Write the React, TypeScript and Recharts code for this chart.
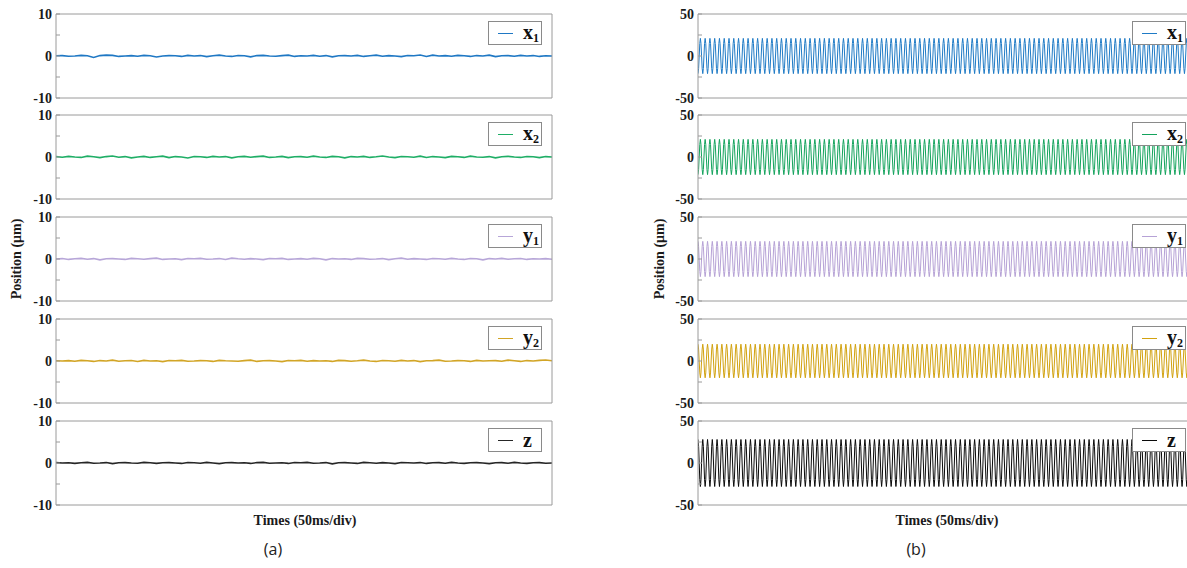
import { Legend, Line, LineChart, XAxis, YAxis } from 'recharts';

// series labels
const NAMES = ['x', 'x', 'y', 'y', 'z'];
const SUBS = ['1', '2', '1', '2', ''];

// (a) small residual wiggle around zero (µm)
const WIGGLE_X1 = [
  0.05, 0.1, -0.05, 0, 0.15, 0.05, -0.35, 0.1, 0.2, 0.15, -0.1, 0, 0.1, -0.05, 0.15, 0.05, -0.25, 0, 0.1, 0.05,
  -0.1, 0.15, 0, 0.1, -0.15, 0.05, 0.2, 0, -0.1, 0.1, 0.05, -0.2, 0.1, 0.15, 0, -0.05, 0.1, 0.2, -0.1, 0.05,
  0, 0.15, -0.05, 0.1, -0.2, 0.05, 0.1, 0, 0.15, -0.1, 0.05, 0.2, -0.05, 0.1, 0, -0.15, 0.1, 0.05, 0.25, -0.1,
  0.2, 0, 0.1, -0.05, 0.15, 0.05, -0.1, 0.1, 0, 0.2, -0.15, 0.05, 0.1, -0.05, 0.15, 0, 0.1, -0.1, 0.05, 0,
];
const WIGGLE_X2 = [
  0.1, -0.05, 0.15, 0, -0.1, 0.2, 0.05, -0.15, 0.1, 0.25, -0.05, 0.1, -0.2, 0, 0.15, -0.1, 0.05, 0.2, -0.15, 0.1,
  0, -0.25, 0.1, 0.05, -0.1, 0.15, 0, 0.1, -0.2, 0.05, 0.15, -0.05, 0.1, 0.2, -0.1, 0, 0.15, -0.15, 0.05, 0.1,
  -0.05, 0.2, 0, -0.1, 0.15, 0.05, -0.2, 0.1, 0, 0.15, -0.1, 0.05, 0.25, 0, -0.15, 0.1, 0.05, -0.05, 0.2, -0.1,
  0.1, 0, -0.15, 0.15, 0.05, -0.1, 0.2, 0, -0.05, 0.1, -0.2, 0.05, 0.15, 0, -0.1, 0.1, 0.05, -0.15, 0.1, 0,
];
const WIGGLE_Y1 = [
  0, 0.1, -0.1, 0.05, 0.15, -0.05, 0.1, -0.2, 0.05, 0.1, 0, -0.1, 0.15, 0.05, -0.05, 0.1, 0.2, -0.1, 0, 0.05,
  -0.15, 0.1, 0.05, 0.15, -0.05, 0, 0.1, -0.1, 0.2, 0.05, -0.05, 0.1, 0, -0.15, 0.1, 0.05, 0.15, -0.1, 0, 0.1,
  -0.05, 0.15, 0.05, -0.2, 0.1, 0, 0.05, -0.1, 0.15, 0.1, -0.05, 0, 0.1, -0.15, 0.05, 0.2, -0.05, 0.1, 0, -0.1,
  0.1, 0.05, -0.05, 0.15, 0, -0.1, 0.1, 0.05, -0.2, 0.1, 0, 0.15, -0.05, 0.05, 0.1, -0.1, 0.05, 0, 0.1, -0.05,
];
const WIGGLE_Y2 = [
  0.05, 0, 0.1, -0.05, 0.15, 0.05, -0.1, 0.1, 0, 0.2, -0.05, 0.05, 0.1, -0.1, 0.15, 0, 0.05, -0.15, 0.1, 0.05,
  0.15, -0.05, 0, 0.1, 0.05, -0.1, 0.15, 0.05, 0, -0.05, 0.1, 0.2, -0.1, 0.05, 0.1, 0, -0.15, 0.1, 0.05, 0.15,
  -0.05, 0.1, 0, 0.05, -0.1, 0.15, 0.1, -0.05, 0.05, 0.2, 0, -0.1, 0.1, 0.05, -0.05, 0.15, 0, 0.1, -0.15, 0.05,
  0.1, 0.2, -0.05, 0, 0.1, 0.05, -0.1, 0.15, 0, 0.05, 0.1, -0.05, 0.2, 0.05, -0.1, 0.1, 0, 0.15, 0.25, 0.05,
];
const WIGGLE_Z = [
  0.1, 0, 0.05, -0.1, 0.05, 0.15, -0.05, 0, 0.1, -0.15, 0.05, 0.1, 0, -0.05, 0.15, 0.05, -0.1, 0.05, 0.1, 0,
  -0.1, 0.1, 0.05, -0.05, 0.15, 0, -0.15, 0.05, 0.1, 0, 0.05, -0.1, 0.1, 0.15, -0.05, 0, 0.05, -0.1, 0.1, 0.05,
  0.15, -0.05, 0, 0.1, -0.2, 0.05, 0.1, 0, -0.1, 0.15, 0.05, -0.05, 0.1, 0, -0.15, 0.1, 0.05, 0, 0.1, -0.1,
  0.05, 0.1, -0.05, 0.15, 0, -0.1, 0.05, 0.1, 0, -0.15, 0.05, 0.1, -0.05, 0.15, 0, -0.1, 0.05, 0.1, -0.05, 0,
];
const WIGGLES = [WIGGLE_X1, WIGGLE_X2, WIGGLE_Y1, WIGGLE_Y2, WIGGLE_Z];

// (b) steady oscillation: one sampled cycle (normalised), peak amplitudes (µm), start offset into the cycle
const CYCLE_SHAPE = [0, 0.71, 1, 0.71, 0, -0.71, -1, -0.71];
const CYCLES_B = 104;
const AMP_B = [21, 21, 21, 20, 28];
const START_B = [6, 6, 2, 2, 2];

const X_TICKS = [0, 1, 2, 3, 4, 5, 6, 7, 8, 9, 10];

const COLORS_A = ['#1f78c4', '#1fae66', '#b7a6d8', '#d2a526', '#262626'];
const COLORS_B = ['#1f7bc6', '#13a35c', '#b6a2d6', '#d2a20f', '#0a0a0a'];

const SERIF = '"Liberation Serif", "Times New Roman", serif';
const AXIS = '#9a9a9a';
const TOPS = [14, 115, 217, 319, 421];
const PH = 84;
const PW = 496;
const M = 10;
const YW = 56;
const RM = 20;

function rowsA(vals: number[]) {
  return vals.map((v, i) => ({ t: (i * 10) / (vals.length - 1), v }));
}

function rowsB(k: number) {
  const n = CYCLES_B * CYCLE_SHAPE.length;
  const out: { t: number; v: number }[] = [];
  for (let i = 0; i <= n; i++) {
    const s = CYCLE_SHAPE[(i + START_B[k]) % CYCLE_SHAPE.length];
    out.push({ t: (i * 10) / n, v: s * AMP_B[k] });
  }
  return out;
}

function LegendBox({ name, sub, color }: { name: string; sub: string; color: string }) {
  return (
    <div
      style={{
        width: 52,
        height: 22,
        border: '1px solid #8a8a8a',
        background: '#fff',
        display: 'flex',
        alignItems: 'center',
        boxSizing: 'content-box',
      }}
    >
      <div style={{ width: 15, height: 1, background: color, marginLeft: 9, marginRight: 10 }} />
      <span style={{ fontFamily: SERIF, fontWeight: 'bold', fontSize: 20, lineHeight: '20px', color: '#111' }}>
        {name}
        {sub && <span style={{ fontSize: 12, position: 'relative', top: 3 }}>{sub}</span>}
      </span>
    </div>
  );
}

function Trace({
  left,
  top,
  data,
  color,
  k,
  range,
  strokeWidth,
  legendGap,
}: {
  left: number;
  top: number;
  data: { t: number; v: number }[];
  color: string;
  k: number;
  range: number;
  strokeWidth: number;
  legendGap: number;
}) {
  const minor = range / 2;
  const yTicks = [-range, -minor, 0, minor, range];
  return (
    <div style={{ position: 'absolute', left, top: top - M }}>
      <LineChart
        width={YW + PW + RM}
        height={PH + 2 * M}
        data={data}
        margin={{ top: M - 1, right: RM - 1, bottom: M - 1, left: 0 }}
      >
        <XAxis
          xAxisId="b"
          dataKey="t"
          type="number"
          domain={[0, 10]}
          allowDataOverflow
          ticks={X_TICKS}
          tick={false}
          tickSize={-4}
          height={1}
          stroke={AXIS}
        />
        <XAxis
          xAxisId="t"
          orientation="top"
          dataKey="t"
          type="number"
          domain={[0, 10]}
          allowDataOverflow
          ticks={X_TICKS}
          tick={false}
          tickSize={-4}
          height={1}
          stroke={AXIS}
        />
        <YAxis
          yAxisId="l"
          type="number"
          domain={[-range, range]}
          allowDataOverflow
          ticks={yTicks}
          interval={0}
          tickFormatter={(v: number) => (Math.abs(v) === minor ? '' : String(v))}
          width={YW}
          tickSize={-4}
          tickMargin={8}
          stroke={AXIS}
          tick={{ fontFamily: SERIF, fontWeight: 'bold', fontSize: 14, fill: '#1a1a1a' }}
        />
        <YAxis
          yAxisId="r"
          orientation="right"
          type="number"
          domain={[-range, range]}
          allowDataOverflow
          ticks={yTicks}
          interval={0}
          width={1}
          tick={false}
          tickSize={-4}
          stroke={AXIS}
        />
        <Line
          xAxisId="b"
          yAxisId="l"
          dataKey="v"
          type="linear"
          stroke={color}
          strokeWidth={strokeWidth}
          dot={false}
          activeDot={false}
          isAnimationActive={false}
        />
        <Legend
          verticalAlign="middle"
          align="center"
          layout="horizontal"
          content={() => <LegendBox name={NAMES[k]} sub={SUBS[k]} color={color} />}
          wrapperStyle={{ top: M + 7, left: YW + PW - legendGap - 54, width: 54, height: 24 }}
        />
      </LineChart>
    </div>
  );
}

export default function App() {
  return (
    <div style={{ position: 'relative', width: 1187, height: 568, overflow: 'hidden', background: '#fff' }}>
      <style>{'body{margin:0}'}</style>
      {WIGGLES.map((w, k) => (
        <Trace
          key={`a${k}`}
          left={0}
          top={TOPS[k]}
          data={rowsA(w)}
          color={COLORS_A[k]}
          k={k}
          range={10}
          strokeWidth={1.6}
          legendGap={10}
        />
      ))}
      {AMP_B.map((_, k) => (
        <Trace
          key={`b${k}`}
          left={698 - YW}
          top={TOPS[k]}
          data={rowsB(k)}
          color={COLORS_B[k]}
          k={k}
          range={50}
          strokeWidth={1}
          legendGap={8}
        />
      ))}
      <svg width={1187} height={568} style={{ position: 'absolute', left: 0, top: 0, pointerEvents: 'none' }}>
        <text
          transform="translate(21 259) rotate(-90)"
          textAnchor="middle"
          fontFamily={SERIF}
          fontWeight="bold"
          fontSize={14}
          fill="#1a1a1a"
        >
          Position (μm)
        </text>
        <text
          transform="translate(664 259) rotate(-90)"
          textAnchor="middle"
          fontFamily={SERIF}
          fontWeight="bold"
          fontSize={14}
          fill="#1a1a1a"
        >
          Position (μm)
        </text>
        <text x={305} y={525} textAnchor="middle" fontFamily={SERIF} fontWeight="bold" fontSize={14} fill="#1a1a1a">
          Times (50ms/div)
        </text>
        <text x={947} y={525} textAnchor="middle" fontFamily={SERIF} fontWeight="bold" fontSize={14} fill="#1a1a1a">
          Times (50ms/div)
        </text>
        <text x={273} y={555} textAnchor="middle" fontFamily='"Open Sans", sans-serif' fontSize={16} fill="#222">
          (a)
        </text>
        <text x={916} y={555} textAnchor="middle" fontFamily='"Open Sans", sans-serif' fontSize={16} fill="#222">
          (b)
        </text>
      </svg>
    </div>
  );
}
